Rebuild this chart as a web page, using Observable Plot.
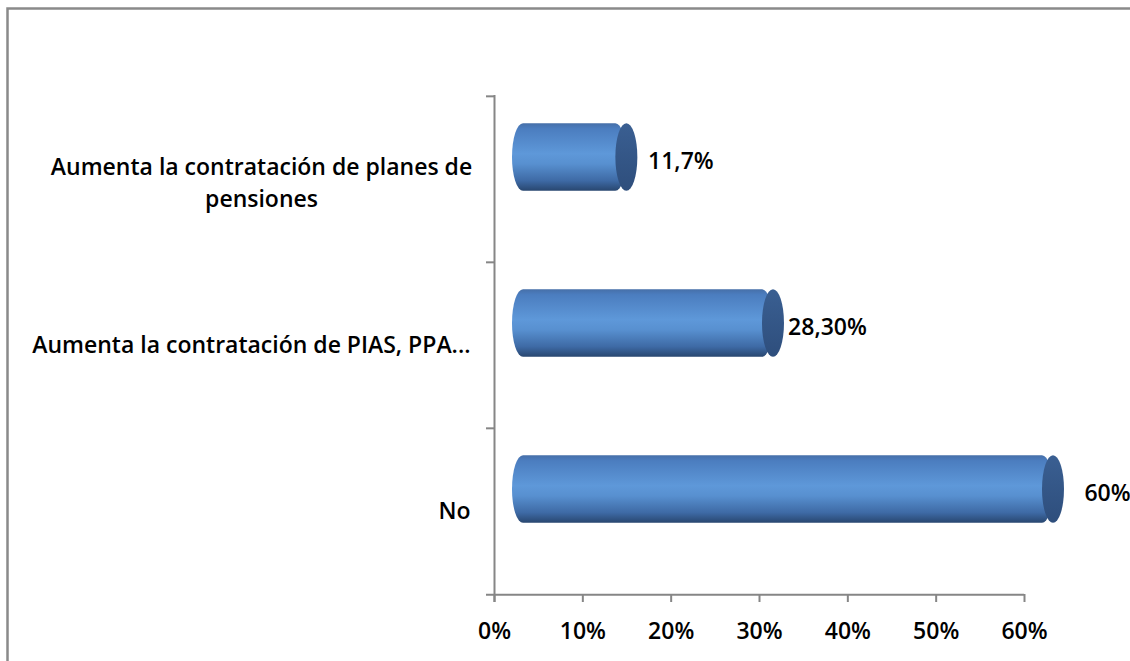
<!DOCTYPE html>
<html>
<head>
<meta charset="utf-8">
<script src="https://cdn.jsdelivr.net/npm/d3@7"></script>
<script src="https://cdn.jsdelivr.net/npm/@observablehq/plot@0.6"></script>
<style>
  html, body { margin: 0; padding: 0; background: #fff; }
  #chart { position: relative; width: 1130px; height: 661px; overflow: hidden; }
</style>
</head>
<body>
<div id="chart"></div>
<script>
const categories = [
  "Aumenta la contratación de planes de pensiones",
  "Aumenta la contratación de PIAS, PPA...",
  "No"
];
const values = [0.117, 0.283, 0.60];
const valueLabels = ["11,7%", "28,30%", "60%"];
const xTicks = [0, 0.1, 0.2, 0.3, 0.4, 0.5, 0.6];
const firstLabelLines = "Aumenta la contratación de planes de\npensiones";

const data = categories.map((c, i) => ({cat: c, value: values[i], label: valueLabels[i]}));

const FONT = "'Open Sans', 'Noto Sans', sans-serif";
const FS = 23;
const AXIS = "#868686";
const BAND_HALF = (661 - 95 - 67) / 3 / 2;
const FRAME_W = 1130 - 494 - 106;

const plot = Plot.plot({
  width: 1130,
  height: 661,
  marginLeft: 494,
  marginRight: 106,
  marginTop: 95,
  marginBottom: 67,
  style: {fontFamily: FONT, fontSize: FS + "px", fontWeight: 600, background: "white", color: "black"},
  x: {domain: [0, 0.6]},
  y: {domain: categories, padding: 0},
  marks: [
    // y axis line
    Plot.ruleX([0], {stroke: AXIS, strokeWidth: 2, insetBottom: -8}),
    // y band boundary ticks
    Plot.ruleY(categories, {y: d => d, dy: -BAND_HALF, stroke: AXIS, strokeWidth: 2, insetLeft: -8, insetRight: FRAME_W}),
    // x axis line
    Plot.ruleY([categories[2]], {y: d => d, dy: BAND_HALF, stroke: AXIS, strokeWidth: 2, insetLeft: -8}),
    Plot.axisX({ticks: xTicks, tickFormat: d3.format(".0%"), tickSize: 8, tickPadding: 20, stroke: AXIS, strokeWidth: 2, fill: "black", label: null, fontSize: FS}),
    Plot.axisY({ticks: categories.slice(1), tickSize: 0, tickPadding: 24, fill: "black", label: null, fontSize: FS}),
    Plot.text([categories[0]], {y: d => d, frameAnchor: "left", text: () => firstLabelLines, textAnchor: "middle", dx: -233, dy: 1, lineHeight: 1.43, fill: "black", fontSize: FS}),
    // cylinder body
    Plot.barX(data, {y: "cat", x1: 0, x2: "value", fill: "url(#cylBody)", rx: 11, ry: 34, insetLeft: -11, insetTop: BAND_HALF - 34, insetBottom: BAND_HALF - 34, dx: 29, dy: -22}),
    // cylinder cap
    Plot.barX(data, {y: "cat", x1: "value", x2: "value", fill: "url(#cylCap)", rx: 11, ry: 34, insetLeft: -11, insetRight: -11, insetTop: BAND_HALF - 34, insetBottom: BAND_HALF - 34, dx: 29, dy: -22}),
    // value labels
    Plot.text(data, {y: "cat", x: "value", text: "label", textAnchor: "middle", dx: 83, dy: -18, fill: "black", fontSize: FS})
  ]
});

const svg = d3.select(plot);
svg.insert("defs", ":first-child").html(`
  <linearGradient id="cylBody" x1="0" y1="0" x2="0" y2="1">
    <stop offset="0" stop-color="#466fa8"/>
    <stop offset="0.08" stop-color="#4b7dbf"/>
    <stop offset="0.45" stop-color="#5e98d9"/>
    <stop offset="0.6" stop-color="#5890d0"/>
    <stop offset="0.85" stop-color="#3e6aa5"/>
    <stop offset="1" stop-color="#28466f"/>
  </linearGradient>
  <linearGradient id="cylCap" x1="0" y1="0" x2="0" y2="1">
    <stop offset="0" stop-color="#3a5f92"/>
    <stop offset="1" stop-color="#2e4e7c"/>
  </linearGradient>
`);
// chart border (top and left edges visible in the crop)
svg.append("path")
  .attr("d", "M7.5,661 V8.5 H1130")
  .attr("fill", "none")
  .attr("stroke", "#8a8a8a")
  .attr("stroke-width", 2.5);

document.getElementById("chart").appendChild(plot);
</script>
</body>
</html>
